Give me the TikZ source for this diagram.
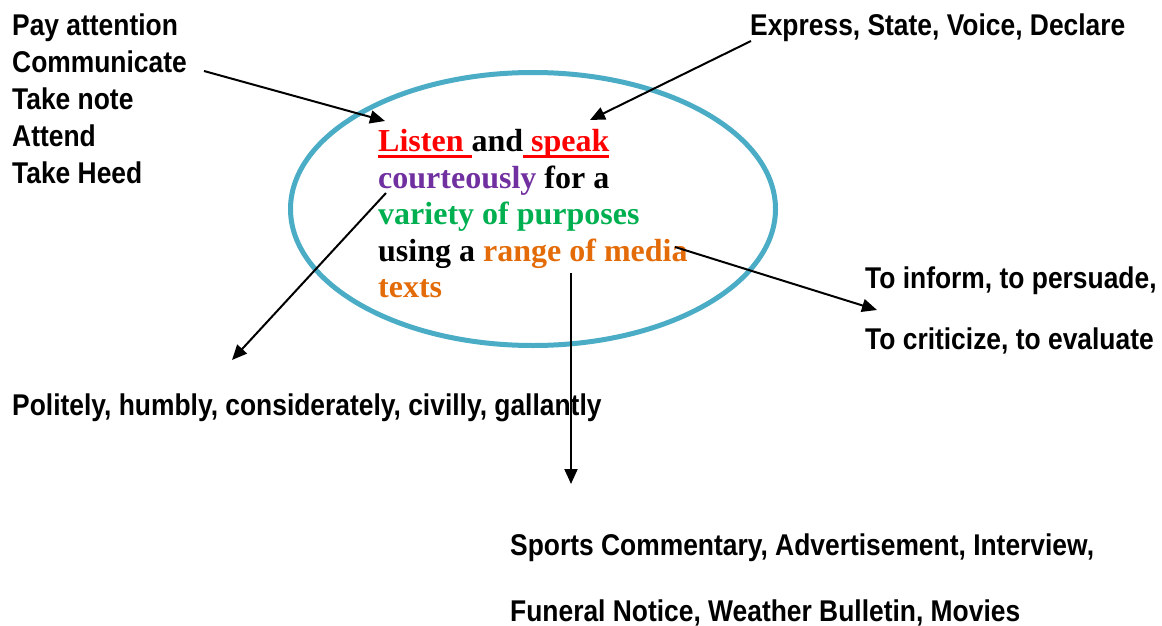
\documentclass[tikz,border=0pt]{standalone}
\usepackage{fontspec}
\setmainfont{Liberation Serif}
\newfontfamily\labelfont[FakeStretch=0.88]{Liberation Sans}
\usetikzlibrary{arrows.meta}

\definecolor{ringblue}{HTML}{4BACC6}
\definecolor{keyred}{HTML}{FF0000}
\definecolor{keypurple}{HTML}{7030A0}
\definecolor{keygreen}{HTML}{00B050}
\definecolor{keyorange}{HTML}{E36C09}

% red word with a thick red underline beneath it
\newcommand\redline[1]{\leavevmode\setbox0=\hbox{\textcolor{keyred}{#1}}\rlap{\textcolor{keyred}{\rule[-7pt]{\wd0}{2.6pt}}}\box0}

\tikzset{
  lbl/.style={anchor=base west, inner sep=0pt,
    font=\labelfont\bfseries\fontsize{30}{36}\selectfont},
  core/.style={anchor=base west, inner sep=0pt,
    font=\bfseries\fontsize{32}{36}\selectfont},
  pointer/.style={line width=2pt, -{Triangle[length=15pt,width=13pt]}},
}

\begin{document}
\begin{tikzpicture}[x=1pt, y=-1pt]
\useasboundingbox (0,0) rectangle (1162,626);

% the outline round the statement
\draw[ringblue, line width=5pt] (533,209) ellipse [x radius=242.5pt, y radius=136.5pt];

% the statement
\node[core] (s1) at (378,151) {\redline{Listen\ }and\redline{\ speak}};
\node[core] (s2) at (378,188) {\textcolor{keypurple}{courteously} for a};
\node[core] (s3) at (378,224) {\textcolor{keygreen}{variety of purposes}};
\node[core] (s4) at (378,261) {using a \textcolor{keyorange}{range of media}};
\node[core] (s5) at (378,297) {\textcolor{keyorange}{texts}};

% word lists
\node[lbl] (l1) at (12,36)  {Pay attention};
\node[lbl] (l2) at (12,73)  {Communicate};
\node[lbl] (l3) at (12,109) {Take note};
\node[lbl] (l4) at (12,146) {Attend};
\node[lbl] (l5) at (12,183) {Take Heed};

\node[lbl] (say) at (750,36) {Express, State, Voice, Declare};

\node[lbl] (why1) at (865,288) {To inform, to persuade,};
\node[lbl] (why2) at (865,349) {To criticize, to evaluate};

\node[lbl] (manner) at (12,415) {Politely, humbly, considerately, civilly, gallantly};

\node[lbl] (media1) at (510,555) {Sports Commentary, Advertisement, Interview,};
\node[lbl] (media2) at (510,621) {Funeral Notice, Weather Bulletin, Movies};

% connector ends
\coordinate (listenIn) at (204,71);
\coordinate (listenTip) at (385,121);
\coordinate (speakIn) at (751,41);
\coordinate (speakTip) at (590,120);
\coordinate (courtOut) at (386,193);
\coordinate (courtTip) at (232,360);
\coordinate (mediaOut) at (675,247);
\coordinate (mediaTip) at (877,310);
\coordinate (textsOut) at (571,273);
\coordinate (textsTip) at (571,484);

\draw[pointer] (listenIn) -- (listenTip);
\draw[pointer] (speakIn) -- (speakTip);
\draw[pointer] (courtOut) -- (courtTip);
\draw[pointer] (mediaOut) -- (mediaTip);
\draw[pointer] (textsOut) -- (textsTip);
\end{tikzpicture}
\end{document}
